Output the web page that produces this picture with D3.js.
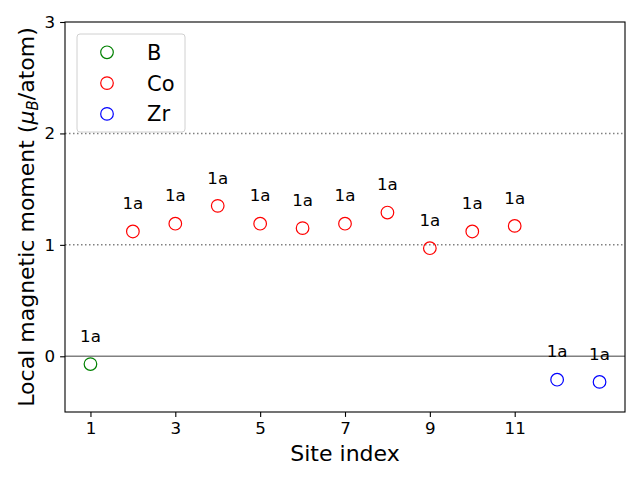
<!DOCTYPE html>
<html><head><meta charset="utf-8">
<script src="https://cdn.jsdelivr.net/npm/d3@7"></script>
<style>body{margin:0;background:#fff}svg{display:block;font-family:"DejaVu Sans",sans-serif}</style>
</head><body><svg id="c" width="640" height="480"></svg>
<script>
const siteIndex = [1,2,3,4,5,6,7,8,9,10,11,12,13];
const moments = [-0.07,1.12,1.19,1.35,1.19,1.15,1.19,1.29,0.97,1.12,1.17,-0.21,-0.23];
const elements = ["B","Co","Co","Co","Co","Co","Co","Co","Co","Co","Co","Zr","Zr"];
const wyckoff = ["1a","1a","1a","1a","1a","1a","1a","1a","1a","1a","1a","1a","1a"];
const legendNames = ["B","Co","Zr"];
const legendColors = ["green","red","blue"];
const xTicks = [1,3,5,7,9,11];
const yTicks = [0,1,2,3];
const refLines = [1,2];

const svg = d3.select("#c");
const L=65,R=625,T=22,B=412;
const x = d3.scaleLinear().domain([0.4,13.6]).range([L,R]);
const y = d3.scaleLinear().domain([-0.5,3]).range([B,T]);
const color = d3.scaleOrdinal().domain(legendNames).range(legendColors);

// reference lines
svg.selectAll(".ref").data(refLines).enter().append("line")
  .attr("x1",L).attr("x2",R).attr("y1",d=>y(d)).attr("y2",d=>y(d))
  .attr("stroke","#808080").attr("stroke-width",1.5).attr("stroke-dasharray","1.5,2.5");
svg.append("line").attr("x1",L).attr("x2",R).attr("y1",y(0)).attr("y2",y(0))
  .attr("stroke","#808080").attr("stroke-width",1.5);

// points
svg.selectAll(".pt").data(siteIndex).enter().append("circle")
  .attr("cx",(d)=>x(d)).attr("cy",(d,i)=>y(moments[i])).attr("r",6.3)
  .attr("fill","none").attr("stroke",(d,i)=>color(elements[i])).attr("stroke-width",1.2);

// labels
svg.selectAll(".lb").data(siteIndex).enter().append("text")
  .attr("x",d=>x(d)).attr("y",(d,i)=>y(moments[i]+0.2)).attr("text-anchor","middle")
  .style("font-size","16.7px").attr("fill","#000").text((d,i)=>wyckoff[i]);

// axes
const xAxis = d3.axisBottom(x).tickValues(xTicks).tickFormat(d3.format("d")).tickSize(4.9).tickPadding(4.9);
const gx = svg.append("g").attr("transform",`translate(0,${B})`).call(xAxis);
const yAxis = d3.axisLeft(y).tickValues(yTicks).tickFormat(d3.format("d")).tickSize(4.9).tickPadding(4.9);
const gy = svg.append("g").attr("transform",`translate(${L},0)`).call(yAxis);
[gx,gy].forEach(g=>{
  g.attr("font-size",null).attr("font-family",null);
  g.select(".domain").remove();
  g.selectAll("text").style("font-size","16.7px").style("font-family","DejaVu Sans").attr("fill","#000");
  g.selectAll("line").attr("stroke","#000").attr("stroke-width",1.1);
});
svg.append("rect").attr("x",L).attr("y",T).attr("width",R-L).attr("height",B-T)
  .attr("fill","none").attr("stroke","#000").attr("stroke-width",1.1);

// axis labels
svg.append("text").attr("x",(L+R)/2).attr("y",461).attr("text-anchor","middle")
  .style("font-size","22px").text("Site index");
const yl = svg.append("text").attr("transform",`translate(34,${(T+B)/2}) rotate(-90)`)
  .attr("text-anchor","middle").style("font-size","22px");
yl.append("tspan").text("Local magnetic moment (");
yl.append("tspan").attr("font-style","italic").text("μ");
yl.append("tspan").attr("font-style","italic").style("font-size","15px").attr("dy",4).text("B");
yl.append("tspan").attr("dy",-4).text("/atom)");

// legend
const lg = svg.append("g");
lg.append("rect").attr("x",77).attr("y",34).attr("width",108).attr("height",98).attr("rx",3)
  .attr("fill","#fff").attr("fill-opacity",0.8).attr("stroke","#d0d0d0").attr("stroke-width",1);
legendNames.forEach((n,i)=>{
  const cy = 52.3 + i*30.8;
  lg.append("circle").attr("cx",107).attr("cy",cy).attr("r",6.3).attr("fill","none")
    .attr("stroke",legendColors[i]).attr("stroke-width",1.2);
  lg.append("text").attr("x",147).attr("y",cy+7.5).style("font-size","21px").text(n);
});
</script></body></html>
